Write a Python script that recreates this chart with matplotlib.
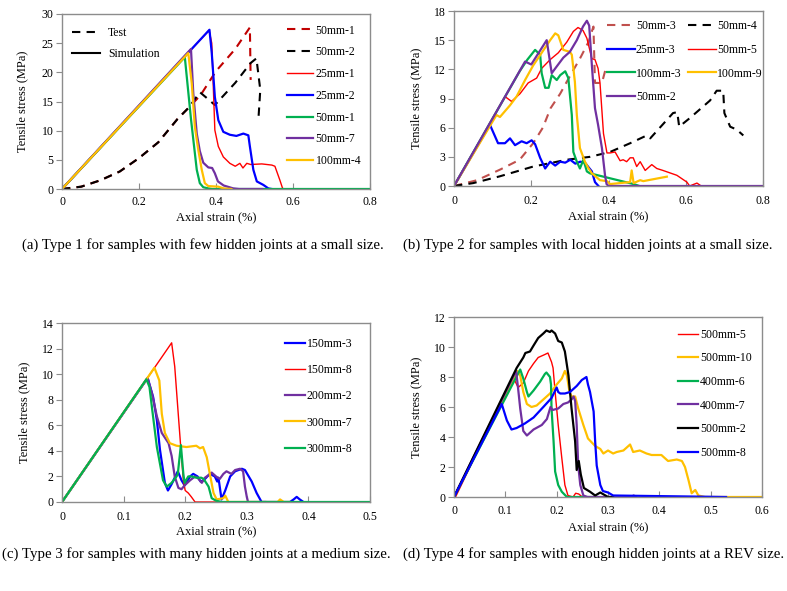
import matplotlib
matplotlib.use("Agg")
import matplotlib.pyplot as plt

plt.rcParams["font.family"] = ["Liberation Serif", "DejaVu Serif"]
plt.rcParams["font.size"] = 8.5
plt.rcParams["axes.labelsize"] = 9

RED = "#FF0000"
BLUE = "#0000FF"
GREEN = "#00B050"
PURPLE = "#7030A0"
ORANGE = "#FFC000"
BLACK = "#000000"
DARKRED = "#C00000"
PALERED = "#C0504D"
SPINE = "#8C8C8C"

# ---------------- (a) Type 1 ----------------
a_test_50mm1 = [(0, 0), (0.05, 0.4), (0.1, 1.5), (0.15, 3.0), (0.2, 5.3), (0.25, 8.0),
                (0.3, 12.0), (0.33, 14.0), (0.36, 16.1), (0.40, 20.2), (0.45, 24.0),
                (0.488, 27.7), (0.49, 18.7)]
a_test_50mm2 = [(0, 0), (0.05, 0.4), (0.1, 1.5), (0.15, 3.0), (0.2, 5.3), (0.25, 8.0),
                (0.3, 12.0), (0.33, 14.0), (0.358, 16.6), (0.376, 15.6), (0.397, 14.4),
                (0.45, 18.2), (0.49, 21.6), (0.505, 22.4), (0.515, 17.0), (0.51, 11.8)]
a_sim_25mm1 = [(0, 0), (0.382, 27.2), (0.389, 25.0), (0.393, 17.5), (0.397, 10.1),
               (0.406, 7.3), (0.419, 5.5), (0.436, 4.4), (0.45, 3.9), (0.462, 4.4),
               (0.47, 3.6), (0.48, 4.4), (0.49, 4.2), (0.519, 4.3), (0.545, 4.1),
               (0.553, 3.9), (0.566, 1.5), (0.573, 0.1), (0.58, 0)]
a_sim_25mm2 = [(0, 0), (0.383, 27.3), (0.389, 23.3), (0.397, 15.8), (0.406, 11.8),
               (0.419, 9.8), (0.436, 9.3), (0.453, 9.1), (0.471, 9.5), (0.484, 9.2),
               (0.488, 7.3), (0.497, 3.3), (0.506, 1.3), (0.523, 0.7), (0.536, 0.1),
               (0.545, 0)]
a_sim_50mm1 = [(0, 0), (0.319, 22.6), (0.335, 12.0), (0.35, 3.3), (0.358, 1.0),
               (0.367, 0.3), (0.38, 0.1), (0.39, 0), (0.8, 0)]
a_sim_50mm7 = [(0, 0), (0.335, 24.0), (0.341, 16.4), (0.35, 9.5), (0.358, 6.5),
               (0.367, 4.5), (0.38, 3.7), (0.39, 3.6), (0.397, 2.7), (0.405, 1.3),
               (0.42, 0.6), (0.445, 0.1), (0.46, 0), (0.52, 0)]
a_sim_100mm4 = [(0, 0), (0.328, 23.3), (0.337, 18.1), (0.345, 10.7), (0.354, 6.7),
                (0.363, 3.3), (0.371, 1.0), (0.38, 0.5), (0.406, 0.4), (0.42, 0.1),
                (0.44, 0)]

# ---------------- (b) Type 2 ----------------
b_50mm3 = [(0, 0), (0.06, 0.6), (0.12, 1.7), (0.17, 2.7), (0.205, 4.4), (0.23, 6.0),
           (0.25, 8.0), (0.275, 9.5), (0.30, 11.3), (0.326, 13.1), (0.348, 14.8),
           (0.361, 16.4), (0.365, 10.6), (0.383, 10.6), (0.395, 12.4)]
b_50mm4 = [(0, 0), (0.05, 0.3), (0.119, 1.0), (0.205, 2.0), (0.292, 2.7), (0.352, 3.0),
           (0.404, 3.5), (0.456, 4.4), (0.499, 5.2), (0.508, 4.9), (0.567, 7.5),
           (0.578, 7.6), (0.583, 6.1), (0.611, 7.0), (0.663, 8.8), (0.68, 9.8),
           (0.697, 9.8), (0.70, 7.5), (0.715, 6.1), (0.732, 5.8), (0.749, 5.2)]
b_25mm3 = [(0, 0), (0.093, 6.3), (0.114, 4.4), (0.132, 4.4), (0.145, 4.9), (0.158, 4.2),
           (0.175, 4.6), (0.188, 4.4), (0.201, 4.7), (0.21, 4.3), (0.223, 2.9),
           (0.236, 1.8), (0.249, 2.5), (0.262, 2.1), (0.275, 2.5), (0.288, 2.4),
           (0.301, 2.7), (0.314, 2.3), (0.327, 2.5), (0.339, 2.4), (0.347, 2.0),
           (0.357, 1.5), (0.365, 0.4), (0.374, 0)]
b_50mm5 = [(0, 0), (0.132, 9.2), (0.149, 8.7), (0.171, 9.5), (0.192, 10.6), (0.214, 11.1),
           (0.227, 12.1), (0.249, 13.0), (0.27, 13.7), (0.292, 14.8), (0.309, 15.9),
           (0.321, 16.3), (0.334, 16.0), (0.344, 15.2), (0.357, 13.1), (0.365, 13.0),
           (0.373, 12.1), (0.378, 10.6), (0.387, 5.4), (0.396, 3.4), (0.404, 3.4),
           (0.417, 3.5), (0.43, 2.6), (0.438, 2.7), (0.447, 2.5), (0.456, 2.9),
           (0.464, 2.9), (0.473, 2.0), (0.482, 2.5), (0.495, 1.6), (0.512, 2.2),
           (0.525, 1.8), (0.541, 1.6), (0.577, 1.1), (0.603, 0.4), (0.61, 0),
           (0.629, 0.3), (0.64, 0)]
b_100mm3 = [(0, 0), (0.17, 11.8), (0.19, 13.0), (0.21, 14.0), (0.223, 13.5), (0.227, 11.6),
            (0.236, 10.1), (0.245, 10.1), (0.253, 11.4), (0.266, 10.9), (0.275, 11.4),
            (0.288, 11.8), (0.296, 11.1), (0.305, 7.3), (0.309, 3.5), (0.318, 2.5),
            (0.326, 1.8), (0.335, 2.7), (0.344, 1.5), (0.352, 1.3), (0.465, 0.2),
            (0.48, 0)]
b_100mm9 = [(0, 0), (0.11, 7.3), (0.119, 7.1), (0.145, 8.3), (0.162, 9.2), (0.184, 10.9),
            (0.205, 12.4), (0.227, 13.7), (0.249, 15.0), (0.262, 15.7), (0.27, 15.5),
            (0.283, 14.0), (0.30, 13.8), (0.305, 13.5), (0.313, 10.7), (0.318, 7.3),
            (0.326, 3.9), (0.339, 2.5), (0.347, 1.9), (0.357, 1.3), (0.378, 0.6),
            (0.396, 0.5), (0.404, 0.2), (0.456, 0.4), (0.46, 1.6), (0.465, 0.3),
            (0.482, 0.6), (0.49, 0.5), (0.551, 0.96)]
b_50mm2 = [(0, 0), (0.184, 12.8), (0.2, 12.5), (0.24, 15.0), (0.253, 11.6), (0.266, 12.3),
           (0.283, 13.2), (0.30, 13.8), (0.318, 15.0), (0.334, 16.4), (0.344, 17.0),
           (0.35, 16.5), (0.357, 12.4), (0.365, 8.0), (0.373, 6.3), (0.383, 3.9),
           (0.391, 1.1), (0.395, 0.2), (0.40, 0), (0.8, 0)]

# ---------------- (c) Type 3 ----------------
c_150mm3 = [(0, 0), (0.139, 9.7), (0.148, 8.2), (0.154, 6.4), (0.159, 4.1), (0.167, 1.5),
            (0.172, 0.9), (0.178, 1.4), (0.186, 2.2), (0.188, 2.4), (0.194, 1.7),
            (0.199, 1.3), (0.208, 2.0), (0.213, 2.2), (0.22, 2.0), (0.225, 1.6),
            (0.23, 1.7), (0.24, 2.2), (0.248, 2.0), (0.252, 1.6), (0.254, 1.9),
            (0.259, 0.2), (0.265, 0.9), (0.273, 2.0), (0.281, 2.4), (0.292, 2.6),
            (0.297, 2.5), (0.308, 1.6), (0.316, 0.7), (0.324, 0), (0.37, 0),
            (0.376, 0.2), (0.381, 0.4), (0.386, 0.2), (0.392, 0)]
c_150mm8 = [(0, 0), (0.178, 12.45), (0.183, 10.6), (0.189, 6.7), (0.194, 3.5),
            (0.197, 1.7), (0.2, 0.9), (0.205, 0.7), (0.21, 0.4), (0.216, 0), (0.267, 0)]
c_200mm2 = [(0, 0), (0.139, 9.7), (0.146, 8.5), (0.154, 6.7), (0.162, 5.4), (0.173, 4.6),
            (0.178, 3.6), (0.183, 2.0), (0.189, 1.1), (0.194, 1.0), (0.199, 1.3),
            (0.208, 1.7), (0.216, 2.0), (0.22, 1.9), (0.227, 1.5), (0.232, 1.9),
            (0.238, 2.1), (0.243, 2.3), (0.25, 2.0), (0.256, 1.8), (0.262, 2.2),
            (0.267, 2.4), (0.275, 2.2), (0.281, 2.5), (0.289, 2.6), (0.294, 2.4),
            (0.297, 1.2), (0.30, 0.4), (0.302, 0), (0.33, 0)]
c_300mm7 = [(0, 0), (0.15, 10.5), (0.158, 9.5), (0.162, 6.9), (0.167, 5.4), (0.175, 4.6),
            (0.186, 4.4), (0.202, 4.3), (0.218, 4.4), (0.224, 4.2), (0.229, 4.3),
            (0.235, 3.5), (0.24, 2.2), (0.246, 0.7), (0.251, 0.2), (0.262, 0.3),
            (0.265, 0.5), (0.27, 0), (0.35, 0), (0.354, 0.2), (0.36, 0), (0.37, 0)]
c_300mm8 = [(0, 0), (0.137, 9.6), (0.142, 9.0), (0.146, 7.4), (0.154, 4.3), (0.164, 1.7),
            (0.17, 1.2), (0.178, 1.5), (0.186, 2.0), (0.188, 2.2), (0.193, 4.45),
            (0.197, 2.2), (0.199, 1.5), (0.205, 2.0), (0.21, 2.0), (0.218, 1.9),
            (0.226, 1.9), (0.23, 1.8), (0.238, 1.2), (0.243, 0.3), (0.25, 0.1),
            (0.26, 0), (0.5, 0)]

# ---------------- (d) Type 4 ----------------
d_500mm5 = [(0.003, 0), (0.115, 8.0), (0.125, 7.3), (0.135, 7.6), (0.145, 8.4),
            (0.155, 8.9), (0.164, 9.3), (0.177, 9.5), (0.183, 9.6), (0.19, 9.0),
            (0.193, 8.6), (0.197, 7.0), (0.203, 4.8), (0.21, 2.6), (0.216, 0.8),
            (0.222, 0.1), (0.232, 0), (0.237, 0.25), (0.243, 0.2), (0.25, 0), (0.3, 0)]
d_500mm10 = [(0, 0), (0.124, 8.4), (0.129, 8.1), (0.135, 7.0), (0.142, 6.2), (0.151, 6.0),
             (0.161, 6.1), (0.174, 6.5), (0.187, 6.9), (0.2, 7.5), (0.21, 7.9),
             (0.216, 8.4), (0.22, 8.1), (0.225, 7.0), (0.229, 6.7), (0.236, 6.7),
             (0.242, 5.9), (0.252, 4.8), (0.261, 3.9), (0.275, 3.4), (0.285, 3.2),
             (0.291, 2.9), (0.3, 3.1), (0.31, 2.9), (0.317, 3.0), (0.33, 3.1),
             (0.343, 3.5), (0.349, 3.0), (0.362, 3.1), (0.375, 2.9), (0.385, 2.8),
             (0.404, 2.8), (0.417, 2.4), (0.434, 2.5), (0.444, 2.4), (0.45, 2.0),
             (0.457, 1.1), (0.463, 0.25), (0.47, 0.47), (0.476, 0.1), (0.489, 0),
             (0.6, 0)]
d_400mm6 = [(0, 0), (0.129, 8.5), (0.135, 7.9), (0.142, 7.0), (0.145, 6.7), (0.155, 7.1),
            (0.168, 7.7), (0.177, 8.2), (0.18, 8.3), (0.187, 8.0), (0.189, 7.5),
            (0.19, 5.9), (0.194, 3.7), (0.197, 1.7), (0.203, 0.8), (0.21, 0.35),
            (0.22, 0), (0.28, 0)]
d_400mm7 = [(0, 0), (0.121, 8.4), (0.125, 7.2), (0.129, 5.9), (0.135, 4.4), (0.142, 4.1),
            (0.155, 4.5), (0.171, 4.8), (0.181, 5.2), (0.188, 6.0), (0.192, 5.8),
            (0.203, 5.9), (0.213, 6.2), (0.222, 6.3), (0.229, 6.5), (0.233, 6.7),
            (0.236, 6.4), (0.239, 4.8), (0.242, 2.1), (0.246, 0.8), (0.252, 0.1),
            (0.26, 0), (0.345, 0), (0.35, 0.1), (0.355, 0)]
d_500mm2 = [(0, 0), (0.122, 8.6), (0.135, 9.3), (0.139, 9.6), (0.148, 9.7), (0.155, 10.1),
            (0.164, 10.6), (0.174, 10.9), (0.18, 11.1), (0.187, 11.0), (0.19, 11.1),
            (0.197, 10.9), (0.203, 10.4), (0.21, 10.3), (0.216, 9.7), (0.223, 8.1),
            (0.229, 5.9), (0.236, 3.7), (0.239, 1.8), (0.243, 2.4), (0.247, 1.5),
            (0.253, 0.6), (0.265, 0.35), (0.275, 0.1), (0.285, 0.3), (0.3, 0), (0.31, 0)]
d_500mm8 = [(0, 0), (0.093, 6.2), (0.103, 5.1), (0.112, 4.5), (0.122, 4.6), (0.138, 4.9),
            (0.155, 5.3), (0.174, 6.0), (0.19, 6.6), (0.2, 7.3), (0.203, 7.0),
            (0.207, 6.9), (0.216, 6.9), (0.226, 7.0), (0.239, 7.4), (0.249, 7.8),
            (0.258, 8.0), (0.261, 7.5), (0.265, 7.0), (0.272, 5.7), (0.275, 3.7),
            (0.278, 2.1), (0.285, 0.8), (0.29, 0.4), (0.3, 0.3), (0.31, 0.1), (0.53, 0)]

captions = [
    "(a) Type 1 for samples with few hidden joints at a small size.",
    "(b) Type 2 for samples with local hidden joints at a small size.",
    "(c) Type 3 for samples with many hidden joints at a medium size.",
    "(d) Type 4 for samples with enough hidden joints at a REV size.",
]

W, H = 787, 591
fig = plt.figure(figsize=(W / 100, H / 100), dpi=100)


def px_axes(x0, y0, x1, y1):
    return fig.add_axes([x0 / W, 1 - y1 / H, (x1 - x0) / W, (y1 - y0) / H])


def draw(ax, pts, color, lw=1.5, ls="-", label=None):
    xs, ys = zip(*pts)
    (ln,) = ax.plot(xs, ys, color=color, lw=lw, ls=ls, label=label)
    return ln


def style(ax, xmax, xstep, ymax, ystep, xfmt, xpad):
    ax.set_xlim(0, xmax)
    ax.set_ylim(0, ymax)
    nx = int(round(xmax / xstep))
    xt = [i * xstep for i in range(nx + 1)]
    ax.set_xticks(xt)
    ax.set_xticklabels(["0"] + [xfmt.format(v) for v in xt[1:]])
    ny = int(round(ymax / ystep))
    ax.set_yticks([i * ystep for i in range(ny + 1)])
    for s in ax.spines.values():
        s.set_color(SPINE)
        s.set_linewidth(1.0)
    ax.tick_params(axis="x", direction="in", length=4, color=SPINE, pad=xpad)
    ax.tick_params(axis="y", direction="out", length=4, color=SPINE, pad=2)
    ax.set_xlabel("Axial strain (%)")
    ax.set_ylabel("Tensile stress (MPa)")


# (a)
ax = px_axes(62, 14, 370, 189)
la = []
la.append(draw(ax, a_test_50mm1, DARKRED, lw=1.5, ls=(0, (4, 3)), label="50mm-1"))
la.append(draw(ax, a_test_50mm2, BLACK, lw=1.5, ls=(0, (4, 3)), label="50mm-2"))
la.append(draw(ax, a_sim_25mm1, RED, lw=1.0, label="25mm-1"))
la.append(draw(ax, a_sim_25mm2, BLUE, lw=1.6, label="25mm-2"))
la.append(draw(ax, a_sim_50mm1, GREEN, lw=1.6, label="50mm-1"))
la.append(draw(ax, a_sim_50mm7, PURPLE, lw=1.6, label="50mm-7"))
la.append(draw(ax, a_sim_100mm4, ORANGE, lw=1.6, label="100mm-4"))
style(ax, 0.8, 0.2, 30, 5, "{:.1f}", 5)
ax.xaxis.set_label_coords(0.5, -0.126)
ax.yaxis.set_label_coords(-0.11, 0.5)
leg1 = ax.legend(la, [l.get_label() for l in la], loc="upper left",
                 bbox_to_anchor=(0.731, 0.94), frameon=False, handlelength=2.2,
                 handletextpad=0.2, labelspacing=0.83, borderpad=0, borderaxespad=0)
ax.add_artist(leg1)
h_test = plt.Line2D([], [], color=BLACK, lw=1.5, ls=(0, (4, 3)))
h_sim = plt.Line2D([], [], color=BLACK, lw=1.5)
ax.legend([h_test, h_sim], ["Test", "Simulation"], loc="upper left",
          bbox_to_anchor=(0.032, 0.923), frameon=False, handlelength=2.4,
          handletextpad=0.65, labelspacing=0.72, borderpad=0, borderaxespad=0)

# (b)
ax = px_axes(454, 11, 763, 186)
h1 = draw(ax, b_50mm3, PALERED, lw=1.5, ls=(0, (4, 3)), label="50mm-3")
h2 = draw(ax, b_50mm4, BLACK, lw=1.5, ls=(0, (4, 3)), label="50mm-4")
h3 = draw(ax, b_25mm3, BLUE, lw=1.6, label="25mm-3")
h4 = draw(ax, b_50mm5, RED, lw=1.0, label="50mm-5")
h5 = draw(ax, b_100mm3, GREEN, lw=1.6, label="100mm-3")
h6 = draw(ax, b_100mm9, ORANGE, lw=1.6, label="100mm-9")
h7 = draw(ax, b_50mm2, PURPLE, lw=1.6, label="50mm-2")
style(ax, 0.8, 0.2, 18, 3, "{:.1f}", 6.5)
ax.xaxis.set_label_coords(0.5, -0.137)
ax.yaxis.set_label_coords(-0.104, 0.5)
hb = [h1, h3, h5, h7, h2, h4, h6]
ax.legend(hb, [h.get_label() for h in hb], loc="upper left", ncol=2,
          bbox_to_anchor=(0.495, 0.949), frameon=False, handlelength=2.35,
          handletextpad=0.1, labelspacing=1.0, columnspacing=0.55,
          borderpad=0, borderaxespad=0)

# (c)
ax = px_axes(62, 323, 370, 502)
hc = [draw(ax, c_150mm3, BLUE, lw=1.6, label="150mm-3"),
      draw(ax, c_150mm8, RED, lw=1.0, label="150mm-8"),
      draw(ax, c_200mm2, PURPLE, lw=1.6, label="200mm-2"),
      draw(ax, c_300mm7, ORANGE, lw=1.6, label="300mm-7"),
      draw(ax, c_300mm8, GREEN, lw=1.6, label="300mm-8")]
style(ax, 0.5, 0.1, 14, 2, "{:.1f}", 6.5)
ax.xaxis.set_label_coords(0.5, -0.128)
ax.yaxis.set_label_coords(-0.104, 0.5)
ax.legend(hc, [h.get_label() for h in hc], loc="upper left",
          bbox_to_anchor=(0.724, 0.918), frameon=False, handlelength=1.7,
          handletextpad=0.15, labelspacing=1.21, borderpad=0, borderaxespad=0)

# (d)
ax = px_axes(454, 317, 762, 497)
hd = [draw(ax, d_500mm5, RED, lw=1.0, label="500mm-5"),
      draw(ax, d_500mm10, ORANGE, lw=1.6, label="500mm-10"),
      draw(ax, d_400mm6, GREEN, lw=1.6, label="400mm-6"),
      draw(ax, d_400mm7, PURPLE, lw=1.6, label="400mm-7"),
      draw(ax, d_500mm2, BLACK, lw=1.6, label="500mm-2"),
      draw(ax, d_500mm8, BLUE, lw=1.6, label="500mm-8")]
style(ax, 0.6, 0.1, 12, 2, "{:.1f}", 6)
ax.xaxis.set_label_coords(0.5, -0.133)
ax.yaxis.set_label_coords(-0.104, 0.5)
ax.legend(hd, [h.get_label() for h in hd], loc="upper left",
          bbox_to_anchor=(0.727, 0.934), frameon=False, handlelength=1.7,
          handletextpad=0.15, labelspacing=0.98, borderpad=0, borderaxespad=0)

# captions
cap_pos = [(22, 245), (403, 245), (2, 554), (403, 554)]
for (cx, cy), txt in zip(cap_pos, captions):
    fig.text(cx / W, 1 - cy / H, txt, ha="left", va="center", fontsize=10.7)

fig.savefig("out.png", dpi=100)
